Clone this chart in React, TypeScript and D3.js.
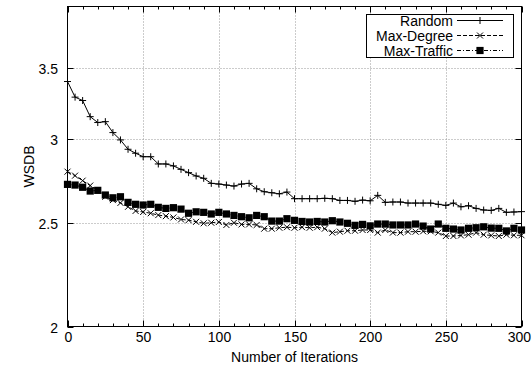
import React from "react";
import * as d3 from "d3";

const ITERATIONS = [0,5,10,15,20,25,30,35,40,45,50,55,60,65,70,75,80,85,90,95,100,105,110,115,120,125,130,135,140,145,150,155,160,165,170,175,180,185,190,195,200,205,210,215,220,225,230,235,240,245,250,255,260,265,270,275,280,285,290,295,300];

const RANDOM = [3.40,3.287,3.263,3.151,3.111,3.117,3.044,2.996,2.936,2.911,2.889,2.889,2.844,2.844,2.832,2.811,2.791,2.771,2.757,2.727,2.723,2.717,2.711,2.723,2.727,2.695,2.678,2.672,2.666,2.676,2.638,2.638,2.638,2.638,2.640,2.638,2.628,2.628,2.623,2.630,2.626,2.657,2.617,2.619,2.619,2.613,2.613,2.613,2.613,2.606,2.600,2.613,2.592,2.598,2.583,2.574,2.572,2.583,2.561,2.563,2.565];

const MAX_DEGREE = [2.797,2.773,2.743,2.714,2.687,2.649,2.630,2.614,2.592,2.569,2.563,2.556,2.546,2.540,2.533,2.522,2.518,2.509,2.501,2.504,2.508,2.492,2.504,2.495,2.495,2.492,2.472,2.472,2.477,2.480,2.477,2.480,2.477,2.480,2.472,2.451,2.456,2.461,2.461,2.465,2.465,2.451,2.465,2.451,2.451,2.456,2.456,2.458,2.458,2.451,2.433,2.433,2.436,2.440,2.451,2.440,2.436,2.433,2.440,2.437,2.437];

const MAX_TRAFFIC = [2.721,2.717,2.704,2.682,2.686,2.659,2.643,2.649,2.617,2.606,2.602,2.606,2.589,2.583,2.587,2.579,2.556,2.564,2.561,2.552,2.561,2.552,2.544,2.537,2.531,2.544,2.537,2.513,2.513,2.526,2.517,2.511,2.508,2.511,2.508,2.515,2.508,2.501,2.490,2.495,2.487,2.497,2.497,2.492,2.492,2.492,2.497,2.486,2.470,2.497,2.474,2.470,2.465,2.474,2.477,2.482,2.475,2.474,2.460,2.474,2.465];

const X_TICKS = [0, 50, 100, 150, 200, 250, 300];
const X_MINOR = [10,20,30,40,60,70,80,90,110,120,130,140,160,170,180,190,210,220,230,240,260,270,280,290];
const Y_TICKS = [2, 2.5, 3, 3.5];
const Y_TICK_LABELS = ["2", "2.5", "3", "3.5"];
const SERIES_NAMES = ["Random", "Max-Degree", "Max-Traffic"];

const W = 532, H = 370;
const L = 67.5, R = 521.5, T = 6.5, B = 326.5;
const FONT = "'Liberation Sans', Arial, Helvetica, sans-serif";

function Marker({ kind, x, y }: { kind: string; x: number; y: number }) {
  if (kind === "plus") {
    const s = 3.5;
    return <path d={`M${x - s},${y}H${x + s}M${x},${y - s}V${y + s}`} stroke="#000" strokeWidth={1} fill="none" />;
  }
  if (kind === "cross") {
    const s = 3;
    return <path d={`M${x - s},${y - s}L${x + s},${y + s}M${x - s},${y + s}L${x + s},${y - s}`} stroke="#000" strokeWidth={1} fill="none" />;
  }
  const s = 3.6;
  return <rect x={x - s} y={y - s} width={2 * s} height={2 * s} fill="#000" />;
}

export default function App() {
  const x = d3.scaleLinear().domain([0, 300]).range([L, R]);
  const y = d3.scaleLog().domain([2, 4]).range([B, T]);

  const series = [
    { name: SERIES_NAMES[0], values: RANDOM, marker: "plus", dash: "none" },
    { name: SERIES_NAMES[1], values: MAX_DEGREE, marker: "cross", dash: "4,2" },
    { name: SERIES_NAMES[2], values: MAX_TRAFFIC, marker: "square", dash: "4,2,1,2" },
  ];

  const line = d3.line<number>().x((_, i) => x(ITERATIONS[i])).y((d) => y(d));

  const legendX = 366, legendY = 14, legendW = 147, legendH = 43;
  const rowY = (i: number) => 20.5 + i * 15;

  return (
    <div style={{ position: "fixed", left: 0, top: 0 }}>
      <svg width={W} height={H} style={{ display: "block", background: "#fff" }} fontFamily={FONT}>
        <rect x={0} y={0} width={W} height={H} fill="#fff" />
        {X_TICKS.filter((t) => t > 0 && t < 300).map((t) => (
          <line key={"gx" + t} x1={Math.round(x(t)) + 0.5} x2={Math.round(x(t)) + 0.5} y1={T} y2={B} stroke="#999" strokeWidth={1} strokeDasharray="1,2" />
        ))}
        {Y_TICKS.filter((t) => t > 2).map((t) => (
          <line key={"gy" + t} x1={L} x2={R} y1={Math.round(y(t)) + 0.5} y2={Math.round(y(t)) + 0.5} stroke="#999" strokeWidth={1} strokeDasharray="1,2" />
        ))}
        {X_TICKS.map((t) => {
          const px = Math.round(x(t)) + 0.5;
          const last = t === 300;
          return (
            <g key={"xt" + t}>
              <line x1={px} x2={px} y1={B} y2={B - 6} stroke="#000" />
              <line x1={px} x2={px} y1={T} y2={T + 6} stroke="#000" />
              <text x={last ? W - 1 : px} y={342} textAnchor={last ? "end" : "middle"} fontSize={14}>{t}</text>
            </g>
          );
        })}
        {X_MINOR.map((t) => {
          const px = Math.round(x(t)) + 0.5;
          return (
            <g key={"xm" + t}>
              <line x1={px} x2={px} y1={B} y2={B - 3} stroke="#000" />
              <line x1={px} x2={px} y1={T} y2={T + 3} stroke="#000" />
            </g>
          );
        })}
        {Y_TICKS.map((t, i) => {
          const py = Math.round(y(t)) + 0.5;
          return (
            <g key={"yt" + t}>
              <line x1={L} x2={L + 6} y1={py} y2={py} stroke="#000" />
              <line x1={R} x2={R - 6} y1={py} y2={py} stroke="#000" />
              <text x={58} y={py + 5} textAnchor="end" fontSize={14}>{Y_TICK_LABELS[i]}</text>
            </g>
          );
        })}
        {series.map((s) => (
          <g key={s.name}>
            <path d={line(s.values) || ""} fill="none" stroke="#000" strokeWidth={1} strokeDasharray={s.dash} />
            {s.values.map((v, i) => (
              <Marker key={i} kind={s.marker} x={x(ITERATIONS[i])} y={y(v)} />
            ))}
          </g>
        ))}
        <rect x={L} y={T} width={R - L} height={B - T} fill="none" stroke="#000" strokeWidth={1} />
        <rect x={legendX + 0.5} y={legendY + 0.5} width={legendW} height={legendH} fill="#fff" stroke="#000" strokeWidth={1} />
        {series.map((s, i) => (
          <g key={"lg" + s.name}>
            <text x={453} y={rowY(i) + 5} textAnchor="end" fontSize={14}>{s.name}</text>
            <line x1={457} x2={503} y1={rowY(i)} y2={rowY(i)} stroke="#000" strokeDasharray={s.dash} />
            <Marker kind={s.marker} x={480} y={rowY(i)} />
          </g>
        ))}
        <text x={(L + R) / 2} y={362} textAnchor="middle" fontSize={14}>Number of Iterations</text>
        <text transform={`translate(34,${(T + B) / 2}) rotate(-90)`} textAnchor="middle" fontSize={14}>WSDB</text>
      </svg>
    </div>
  );
}
